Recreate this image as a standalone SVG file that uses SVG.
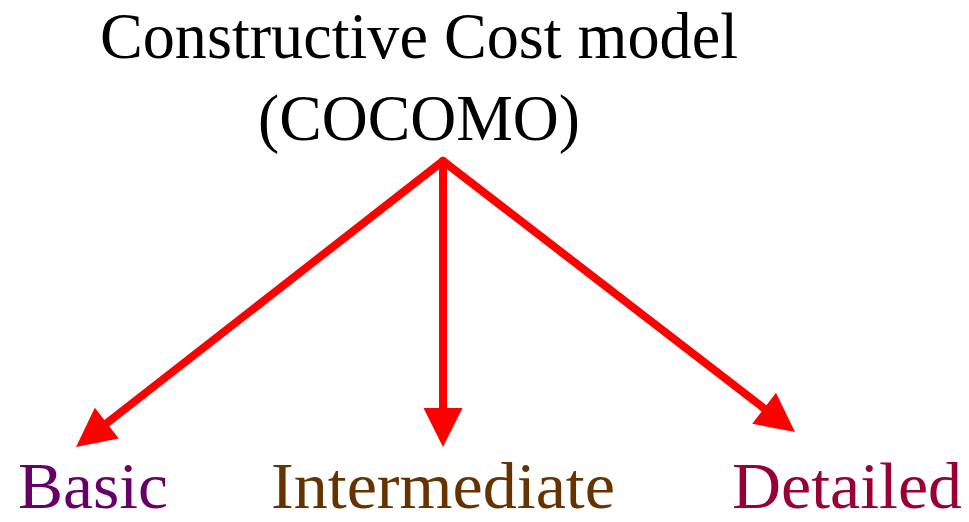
<svg xmlns="http://www.w3.org/2000/svg" width="969" height="522" viewBox="0 0 969 522">
<style>
.t{font-family:"Liberation Serif","Times New Roman",serif;}
.title{font-size:65px;fill:#000;}
.leaf{font-size:65px;}
.conn{stroke:#ff0000;stroke-width:8;fill:none;stroke-linecap:round;}
</style>
<defs>
<marker id="ah" markerUnits="userSpaceOnUse" markerWidth="40" markerHeight="40" refX="0" refY="19.5" orient="auto" overflow="visible">
<path d="M0,0 L39,19.5 L0,39 Z" fill="#ff0000"/>
</marker>
</defs>
<rect width="969" height="522" fill="#fff"/>
<g id="root">
<text class="t title" x="100" y="58" textLength="638" lengthAdjust="spacingAndGlyphs">Constructive Cost model</text>
<text class="t title" x="258" y="140" textLength="322" lengthAdjust="spacingAndGlyphs">(COCOMO)</text>
</g>
<g id="connectors">
<path class="conn" d="M443,161 L106.8,423.1" marker-end="url(#ah)"/>
<path class="conn" d="M443,161 L443,408" marker-end="url(#ah)"/>
<path class="conn" d="M443,161 L764.1,408.3" marker-end="url(#ah)"/>
</g>
<g id="basic">
<text class="t leaf" x="18" y="508" fill="#660066" textLength="150" lengthAdjust="spacingAndGlyphs">Basic</text>
</g>
<g id="intermediate">
<text class="t leaf" x="271" y="508" fill="#663300" textLength="344" lengthAdjust="spacingAndGlyphs">Intermediate</text>
</g>
<g id="detailed">
<text class="t leaf" x="732" y="508" fill="#990033" textLength="230" lengthAdjust="spacingAndGlyphs">Detailed</text>
</g>
</svg>
